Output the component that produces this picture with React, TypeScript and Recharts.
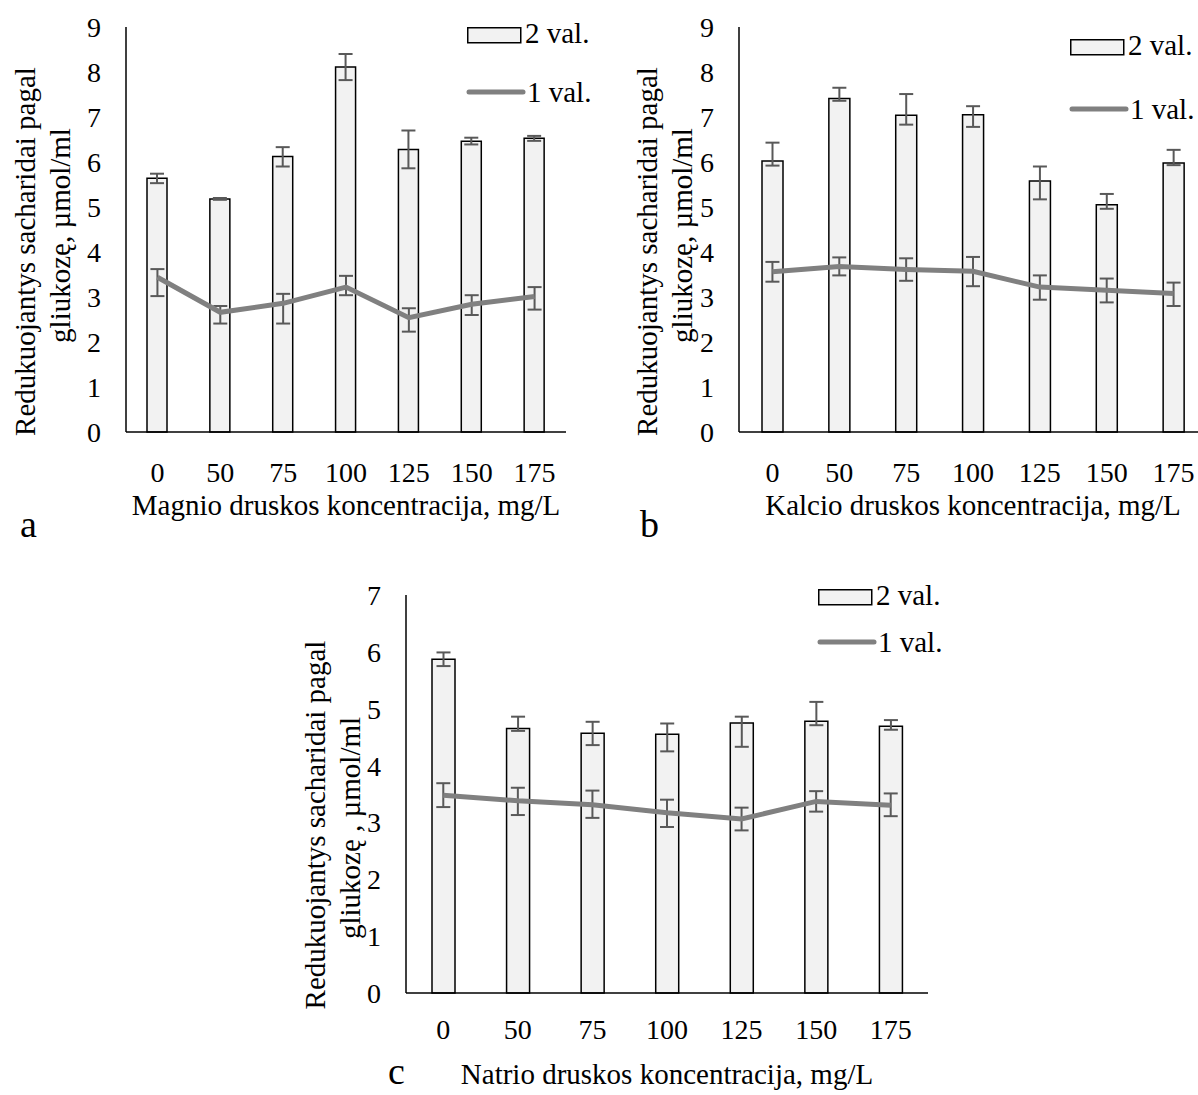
import React from 'react';
import { ComposedChart, Bar, Line, XAxis, YAxis, ErrorBar, Legend, Label } from 'recharts';

const FONT = '"Liberation Serif", "Times New Roman", serif';

const concentrations = ['0', '50', '75', '100', '125', '150', '175'];

// a – Magnio druska
const magnio2val = [5.64, 5.18, 6.12, 8.11, 6.28, 6.46, 6.53];
const magnio2err = [[0.11, 0.1], [0.02, 0.02], [0.22, 0.21], [0.29, 0.29], [0.42, 0.42], [0.07, 0.08], [0.06, 0.05]];
const magnio1val = [3.44, 2.66, 2.86, 3.22, 2.54, 2.84, 3.01];
const magnio1err = [[0.42, 0.18], [0.25, 0.14], [0.45, 0.21], [0.18, 0.25], [0.31, 0.21], [0.24, 0.2], [0.29, 0.21]];

// b – Kalcio druska
const kalcio2val = [6.02, 7.41, 7.04, 7.05, 5.58, 5.05, 5.98];
const kalcio2err = [[0.1, 0.41], [0.05, 0.24], [0.21, 0.47], [0.27, 0.19], [0.41, 0.32], [0.09, 0.24], [0.05, 0.29]];
const kalcio1val = [3.56, 3.68, 3.61, 3.57, 3.22, 3.15, 3.08];
const kalcio1err = [[0.22, 0.22], [0.2, 0.2], [0.25, 0.25], [0.33, 0.32], [0.28, 0.26], [0.27, 0.26], [0.28, 0.24]];

// c – Natrio druska
const natrio2val = [5.87, 4.65, 4.57, 4.55, 4.75, 4.78, 4.69];
const natrio2err = [[0.12, 0.12], [0.04, 0.21], [0.21, 0.2], [0.3, 0.19], [0.42, 0.11], [0.07, 0.34], [0.06, 0.11]];
const natrio1val = [3.48, 3.38, 3.31, 3.17, 3.06, 3.37, 3.3];
const natrio1err = [[0.21, 0.21], [0.25, 0.23], [0.23, 0.25], [0.25, 0.23], [0.2, 0.2], [0.18, 0.18], [0.19, 0.21]];

const ticks9 = [0, 1, 2, 3, 4, 5, 6, 7, 8, 9];
const ticks7 = [0, 1, 2, 3, 4, 5, 6, 7];

function buildRows(v2: number[], e2: number[][], v1: number[], e1: number[][]) {
  return concentrations.map((c, i) => ({ conc: c, v2: v2[i], e2: e2[i], v1: v1[i], e1: e1[i] }));
}

function makeLegend(gap: number) {
  return () => (
    <svg width={150} height={gap + 30} style={{ display: 'block', overflow: 'visible' }}>
      <rect x={0.75} y={0.75} width={53} height={15} fill="#f2f2f2" stroke="#000" strokeWidth={1.5} />
      <text x={58} y={16} fontFamily={FONT} fontSize={29} fill="#000">2 val.</text>
      <line x1={2} x2={56} y1={gap + 8} y2={gap + 8} stroke="#808080" strokeWidth={5} strokeLinecap="round" />
      <text x={60} y={gap + 18} fontFamily={FONT} fontSize={29} fill="#000">1 val.</text>
    </svg>
  );
}

type PanelProps = {
  rows: any[];
  width: number;
  height: number;
  margin: { top: number; right: number; bottom: number; left: number };
  yMax: number;
  yTicks: number[];
  barSize: number;
  xTitle: string;
  xTitleOffset: number;
  tickMargin: number;
  yLine2: string;
  yTitlePos: { dx1: number; dx2: number; dy1: number; dy2: number };
  legendPos: { left: number; top: number; gap: number };
};

function Panel(p: PanelProps) {
  const xTitle = (props: any) => {
    const vb = props.viewBox || {};
    return (
      <text x={vb.x + vb.width / 2} y={vb.y + p.xTitleOffset} textAnchor="middle"
        fontFamily={FONT} fontSize={29} fill="#000">{p.xTitle}</text>
    );
  };
  const yTitle = (props: any) => {
    const vb = props.viewBox || {};
    const ax = vb.x + vb.width;
    const cy = vb.y + vb.height / 2;
    const t = p.yTitlePos;
    return (
      <g>
        <text transform={`translate(${ax - t.dx1},${cy + t.dy1}) rotate(-90)`} textAnchor="middle"
          dominantBaseline="central" fontFamily={FONT} fontSize={29} fill="#000">Redukuojantys sacharidai pagal</text>
        <text transform={`translate(${ax - t.dx2},${cy + t.dy2}) rotate(-90)`} textAnchor="middle"
          dominantBaseline="central" fontFamily={FONT} fontSize={29} fill="#000">{p.yLine2}</text>
      </g>
    );
  };
  return (
    <ComposedChart width={p.width} height={p.height} data={p.rows} margin={p.margin}>
      <XAxis dataKey="conc" interval={0} height={60} tickSize={0} tickMargin={p.tickMargin} tickLine={false}
        axisLine={{ stroke: '#000', strokeWidth: 1.5 }}
        tick={{ fontSize: 28, fill: '#000', fontFamily: FONT }}>
        <Label content={xTitle} />
      </XAxis>
      <YAxis domain={[0, p.yMax]} ticks={p.yTicks} interval={0} width={60} tickSize={0} tickMargin={25}
        tickLine={false} axisLine={{ stroke: '#000', strokeWidth: 1.5 }}
        tick={{ fontSize: 28, fill: '#000', fontFamily: FONT }}>
        <Label content={yTitle} />
      </YAxis>
      <Legend layout="vertical" align="center" verticalAlign="middle" content={makeLegend(p.legendPos.gap)}
        wrapperStyle={{ left: p.legendPos.left, top: p.legendPos.top, width: 150, height: p.legendPos.gap + 30 }} />
      <Bar dataKey="v2" name="2 val." barSize={p.barSize} fill="#f2f2f2" stroke="#000" strokeWidth={1.5}
        isAnimationActive={false}>
        <ErrorBar dataKey="e2" direction="y" width={7} stroke="#595959" strokeWidth={2} />
      </Bar>
      <Line dataKey="v1" name="1 val." type="linear" stroke="#808080" strokeWidth={5} dot={false}
        activeDot={false} isAnimationActive={false}>
        <ErrorBar dataKey="e1" direction="y" width={7} stroke="#595959" strokeWidth={2} />
      </Line>
    </ComposedChart>
  );
}

export default function App() {
  const rowsA = buildRows(magnio2val, magnio2err, magnio1val, magnio1err);
  const rowsB = buildRows(kalcio2val, kalcio2err, kalcio1val, kalcio1err);
  const rowsC = buildRows(natrio2val, natrio2err, natrio1val, natrio1err);
  return (
    <div style={{ position: 'absolute', left: 0, top: 0, width: 1198, height: 1095, overflow: 'hidden', background: '#fff' }}>
      <div style={{ position: 'absolute', left: 0, top: 0 }}>
        <Panel rows={rowsA} width={600} height={560} margin={{ top: 27, right: 34, bottom: 68, left: 66 }}
          yMax={9} yTicks={ticks9} barSize={20} xTitle="Magnio druskos koncentracija, mg/L" xTitleOffset={83}
          tickMargin={30} yLine2="gliukozę, µmol/ml" yTitlePos={{ dx1: 101, dx2: 66, dy1: 22, dy2: 6 }}
          legendPos={{ left: 467, top: 27, gap: 57 }} />
      </div>
      <div style={{ position: 'absolute', left: 600, top: 0, width: 598, height: 560, overflow: 'hidden' }}>
        <Panel rows={rowsB} width={620} height={560} margin={{ top: 27, right: 13, bottom: 68, left: 79 }}
          yMax={9} yTicks={ticks9} barSize={21} xTitle="Kalcio druskos koncentracija, mg/L" xTitleOffset={83}
          tickMargin={30} yLine2="gliukozę, µmol/ml" yTitlePos={{ dx1: 92, dx2: 57, dy1: 22, dy2: 6 }}
          legendPos={{ left: 470, top: 39, gap: 62 }} />
      </div>
      <div style={{ position: 'absolute', left: 280, top: 560 }}>
        <Panel rows={rowsC} width={680} height={535} margin={{ top: 35, right: 32, bottom: 42, left: 66 }}
          yMax={7} yTicks={ticks7} barSize={23} xTitle="Natrio druskos koncentracija, mg/L" xTitleOffset={91}
          tickMargin={26} yLine2="gliukozę , µmol/ml" yTitlePos={{ dx1: 91, dx2: 56, dy1: 31, dy2: 34 }}
          legendPos={{ left: 538, top: 29, gap: 45 }} />
      </div>
      <svg width={1198} height={1095} style={{ position: 'absolute', left: 0, top: 0, pointerEvents: 'none' }}>
        <text x={20} y={537} fontFamily={FONT} fontSize={38} fill="#000">a</text>
        <text x={640} y={537} fontFamily={FONT} fontSize={38} fill="#000">b</text>
        <text x={388} y={1084} fontFamily={FONT} fontSize={38} fill="#000">c</text>
      </svg>
    </div>
  );
}
